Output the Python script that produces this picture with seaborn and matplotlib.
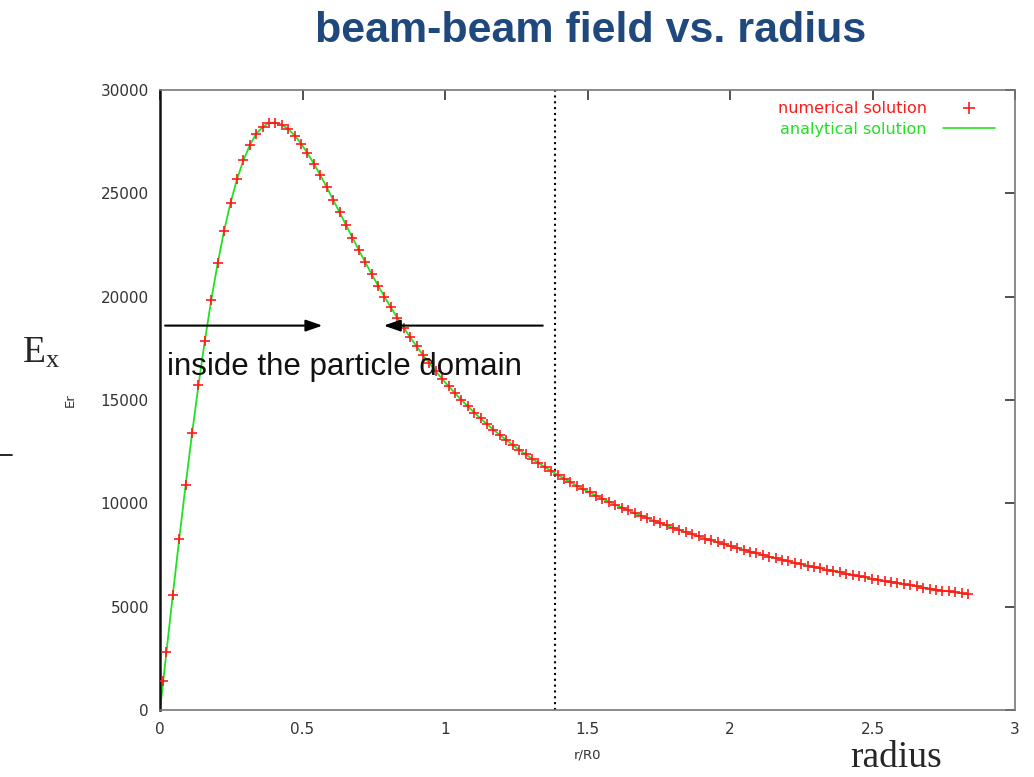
import matplotlib
matplotlib.use("Agg")
import matplotlib.pyplot as plt
from matplotlib.lines import Line2D
import seaborn as sns
import pandas as pd

# ---------------- data ----------------
r_numerical = [
    0.01125, 0.0225, 0.045, 0.0675, 0.09, 0.1125, 0.135, 0.1575, 0.18, 0.2025,
    0.225, 0.2475, 0.27, 0.2925, 0.315, 0.3375, 0.36, 0.3825, 0.405, 0.4275,
    0.45, 0.4725, 0.495, 0.5175, 0.54, 0.5625, 0.585, 0.6075, 0.63, 0.6525,
    0.675, 0.6975, 0.72, 0.7425, 0.765, 0.7875, 0.81, 0.8325, 0.855, 0.8775,
    0.9, 0.9225, 0.945, 0.9675, 0.99, 1.0125, 1.035, 1.0575, 1.08, 1.1025,
    1.125, 1.1475, 1.17, 1.1925, 1.215, 1.2375, 1.26, 1.2825, 1.305, 1.3275,
    1.35, 1.3725, 1.395, 1.4175, 1.44, 1.4625, 1.485, 1.5075, 1.53, 1.5525,
    1.575, 1.5975, 1.62, 1.6425, 1.665, 1.6875, 1.71, 1.7325, 1.755, 1.7775,
    1.8, 1.8225, 1.845, 1.8675, 1.89, 1.9125, 1.935, 1.9575, 1.98, 2.0025,
    2.025, 2.0475, 2.07, 2.0925, 2.115, 2.1375, 2.16, 2.1825, 2.205, 2.2275,
    2.25, 2.2725, 2.295, 2.3175, 2.34, 2.3625, 2.385, 2.4075, 2.43, 2.4525,
    2.475, 2.4975, 2.52, 2.5425, 2.565, 2.5875, 2.61, 2.6325, 2.655, 2.6775,
    2.7, 2.7225, 2.745, 2.7675, 2.79, 2.8125, 2.835,
]
E_numerical = [
    1405, 2806, 5579, 8285, 10895, 13382, 15715, 17879, 19853, 21626,
    23188, 24537, 25671, 26595, 27316, 27892, 28195, 28421, 28415, 28319,
    28107, 27797, 27404, 26944, 26431, 25878, 25295, 24695, 24084, 23471,
    22861, 22259, 21670, 21095, 20538, 20000, 19481, 18982, 18503, 18043,
    17603, 17182, 16779, 16393, 16023, 15669, 15330, 15005, 14693, 14394,
    14107, 13830, 13564, 13308, 13062, 12824, 12595, 12374, 12161, 11955,
    11756, 11563, 11376, 11196, 11021, 10851, 10687, 10527, 10373, 10222,
    10076, 9934, 9796, 9662, 9532, 9404, 9281, 9160, 9043, 8928,
    8817, 8708, 8602, 8498, 8397, 8298, 8202, 8107, 8015, 7925,
    7837, 7751, 7667, 7584, 7504, 7425, 7347, 7271, 7197, 7125,
    7053, 6984, 6915, 6848, 6782, 6717, 6654, 6592, 6531, 6471,
    6412, 6354, 6298, 6242, 6187, 6133, 6080, 6029, 5977, 5927,
    5878, 5829, 5781, 5734, 5688, 5643, 5598,
]
# analytical curve starts at the origin
r_analytical = [0.0] + r_numerical
E_analytical = [0] + E_numerical

x_ticks = [0, 0.5, 1, 1.5, 2, 2.5, 3]
x_tick_labels = ["0", "0.5", "1", "1.5", "2", "2.5", "3"]
y_ticks = [0, 5000, 10000, 15000, 20000, 25000, 30000]
y_tick_labels = ["0", "5000", "10000", "15000", "20000", "25000", "30000"]

domain_edge = 1.386
arrow_y = 18600
title = "beam-beam field vs. radius"
legend_labels = ["numerical solution", "analytical solution"]

df_num = pd.DataFrame({"r": r_numerical, "E": E_numerical})
df_ana = pd.DataFrame({"r": r_analytical, "E": E_analytical})

# ---------------- style ----------------
sns.set_style("white")
plt.rcParams["font.family"] = ["DejaVu Sans"]

fig = plt.figure(figsize=(10.34, 7.77), dpi=100)
ax = fig.add_axes([160 / 1034, 1 - 710 / 777, (1015 - 160) / 1034, (710 - 90) / 777])

RED = "#ff1a1a"
GREEN = "#22e022"

sns.lineplot(data=df_ana, x="r", y="E", ax=ax, color=GREEN, lw=1.3,
             legend=False, sort=False, errorbar=None)
sns.scatterplot(data=df_num, x="r", y="E", ax=ax, marker="+", s=60,
                color=RED, linewidth=1.2, legend=False, zorder=3)

ax.set_xlim(0, 3)
ax.set_ylim(0, 30000)
ax.set_xticks(x_ticks)
ax.set_xticklabels(x_tick_labels)
ax.set_yticks(y_ticks)
ax.set_yticklabels(y_tick_labels)
ax.tick_params(direction="in", length=7, width=1.2, color="#333333",
               labelsize=11, labelcolor="#333333", top=True, right=True)
ax.tick_params(axis="x", pad=9)
ax.tick_params(axis="y", pad=8)
for side, sp in ax.spines.items():
    sp.set_visible(True)
    sp.set_color("#777777")
    sp.set_linewidth(1.2)
ax.spines["left"].set_color("#111111")
ax.spines["left"].set_linewidth(1.8)

ax.set_xlabel("r/R0", fontsize=9.5, color="#333333", labelpad=8)
ax.set_ylabel("Er", fontsize=9.5, color="#333333", labelpad=17)

# dotted boundary of the particle domain
ax.axvline(domain_edge, color="black", lw=1.5, linestyle=(0, (1, 1.8)))

# arrows
ax.annotate("", xy=(0.57, arrow_y), xytext=(0.018, arrow_y),
            arrowprops=dict(arrowstyle="-|>,head_length=1.0,head_width=0.35",
                            color="black", lw=1.5, shrinkA=0, shrinkB=0))
ax.annotate("", xy=(0.785, arrow_y), xytext=(1.343, arrow_y),
            arrowprops=dict(arrowstyle="-|>,head_length=1.0,head_width=0.35",
                            color="black", lw=1.5, shrinkA=0, shrinkB=0))
ax.text(0.025, 16600, "inside the particle domain", fontsize=22.5,
        color="#111111", va="center", ha="left",
        family=["Liberation Sans", "DejaVu Sans"])

# legend
handles = [
    Line2D([], [], linestyle="none", marker="+", color=RED, markersize=8, mew=1.2),
    Line2D([], [], color=GREEN, lw=1.2),
]
leg = ax.legend(handles, legend_labels, loc="upper right", frameon=False,
                markerfirst=False, fontsize=11.5, handlelength=3.3,
                handletextpad=1.0, labelspacing=0.35, borderpad=0.2,
                bbox_to_anchor=(0.99, 1.0), labelcolor=[RED, GREEN])

# slide texts
fig.text(591 / 1034, 1 - 42 / 777, title, fontsize=31, fontweight="bold",
         color="#1f497d", ha="center", va="baseline",
         family=["Liberation Sans", "DejaVu Sans"])
fig.text(22 / 1034, 1 - 353 / 777, r"$\mathregular{E_x}$", fontsize=27,
         ha="left", va="center", family=["Liberation Serif", "DejaVu Serif"])
fig.text(896 / 1034, 1 - 758 / 777, "radius", fontsize=27,
         ha="center", va="center", family=["Liberation Serif", "DejaVu Serif"])
fig.add_artist(Line2D([0 / 1034, 12 / 1034], [1 - 455 / 777, 1 - 455 / 777],
                      color="black", lw=1.2))

fig.savefig("out.png", dpi=100)
